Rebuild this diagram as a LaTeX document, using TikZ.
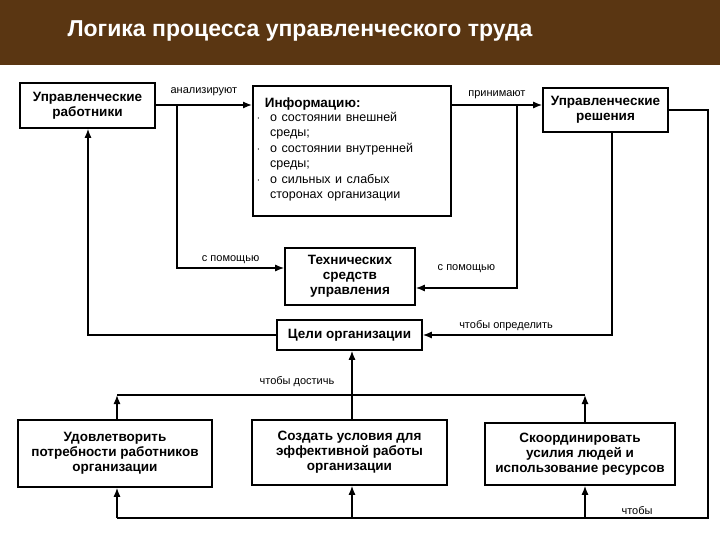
\documentclass[tikz,border=0pt]{standalone}
\usepackage{fontspec}
\setmainfont{Liberation Sans}
\usetikzlibrary{positioning,arrows.meta}
\definecolor{titlebrown}{RGB}{90,54,18}
\tikzset{
  blk/.style={draw, line width=1.6pt, fill=white, font=\bfseries\fontsize{13.5}{15}\selectfont, align=center, inner sep=2pt},
  lnk/.style={line width=1.3pt, -{Latex[length=9pt,width=7pt]}},
  plain/.style={line width=1.3pt},
  lbl/.style={font=\fontsize{11}{12}\selectfont, inner sep=1pt}
}
\begin{document}
\begin{tikzpicture}[x=1pt,y=-1pt]
\useasboundingbox (0,0) rectangle (720,540);
% title
\fill[titlebrown] (0,0) rectangle (720,65);
\node[anchor=west, text=white, font=\bfseries\fontsize{23}{26}\selectfont] (title) at (64,31) {Логика процесса управленческого труда};
% boxes
\node[blk, minimum width=135pt, minimum height=45pt] (uw) at (87.5,105.5) {Управленческие\\работники};
\node[blk, minimum width=198pt, minimum height=130pt, anchor=north west, align=left, text width=190pt, inner sep=3pt] (info) at (252,85)
 {\hspace*{8pt}Информацию:\\[-1pt]
  {\mdseries\fontsize{12.5}{15.5}\selectfont
  \begin{tabular}{@{}l@{\hspace{10pt}}l@{}}
  $\cdot$ & о состоянии внешней\\ & среды;\\
  $\cdot$ & о состоянии внутренней\\ & среды;\\
  $\cdot$ & о сильных и слабых\\ & сторонах организации
  \end{tabular}}};
\node[blk, minimum width=125pt, minimum height=44pt] (ur) at (605.5,110) {Управленческие\\решения};
\node[blk, minimum width=130pt, minimum height=57pt] (tech) at (350,276.5) {Технических\\средств\\управления};
\node[blk, minimum width=145pt, minimum height=30pt] (goal) at (349.5,335) {Цели организации};
\node[blk, minimum width=194pt, minimum height=67pt] (b1) at (115,453.5) {Удовлетворить\\потребности работников\\организации};
\node[blk, minimum width=195pt, minimum height=65pt] (b2) at (349.5,452.5) {Создать условия для\\эффективной работы\\организации};
\node[blk, minimum width=190pt, minimum height=62pt] (b3) at (580,454) {Скоординировать\\усилия людей и\\использование ресурсов};
% junction points
\coordinate (j1) at (177,105);
\coordinate (j2) at (517,105);
\coordinate (jr) at (708,110);
\coordinate (jb) at (708,518);
\coordinate (jg) at (612,336);
\coordinate (jl) at (88,336);
% top row
\draw[lnk] (uw.east |- j1) -- (info.west |- j1) node[lbl, midway, above=8pt] {анализируют};
\draw[lnk] (j1) |- (tech.west |- 0,268) node[lbl, pos=0.75, above=3pt] {с помощью};
\draw[lnk] (info.east |- j2) -- (ur.west |- j2) node[lbl, midway, above=5pt] {принимают};
\draw[lnk] (j2) |- (tech.east |- 0,288) node[lbl, pos=0.75, above=14pt] {с помощью};
% goals
\draw[lnk] (ur.south -| jg) |- (goal.east) node[lbl, pos=0.78, above=3pt] {чтобы определить};
\draw[lnk] (goal.west) -| (uw.south -| jl);
% bottom loop
\draw[plain] (ur.east) -- (jr) -- (jb) -- (117,518);
\node[lbl] (lchto) at (637,511) {чтобы};
\draw[lnk] (117,518) -- (b1.south -| 117,0);
\draw[lnk] (352,518) -- (b2.south -| 352,0);
\draw[lnk] (585,518) -- (b3.south -| 585,0);
% reach goals
\draw[lnk] (b2.north -| 352,0) -- (goal.south -| 352,0);
\draw[plain] (117,395) -- (585,395);
\draw[lnk] (b1.north -| 117,0) -- (117,395);
\draw[lnk] (b3.north -| 585,0) -- (585,395);
\node[lbl] (lreach) at (297,382) {чтобы достичь};
\end{tikzpicture}
\end{document}
